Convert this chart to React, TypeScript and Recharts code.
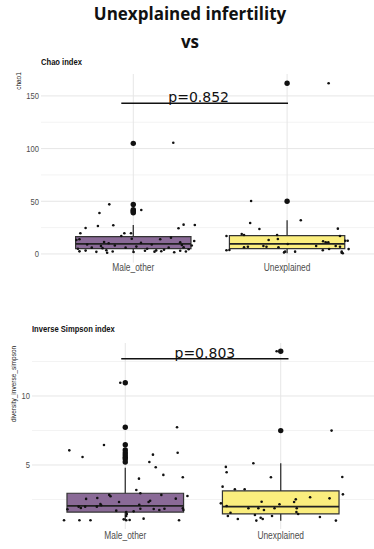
import React from 'react'
import {
  ScatterChart,
  Scatter,
  XAxis,
  YAxis,
  CartesianGrid,
  ReferenceLine,
  ReferenceArea,
} from 'recharts'

const categories = ['Male_other', 'Unexplained']
const boxColors = ['#8a6a97', '#fbee7e']

const chaoTicks = [0, 50, 100, 150]
const chaoMinor = [25, 75, 125]
const simpsonTicks = [5, 10]
const simpsonMinor = [2.5, 7.5, 12.5]

// [lower whisker, q1, median, q3, upper whisker]
const chaoMaleBox = [0.8, 5.0, 9.5, 16.4, 27.5]
const chaoUnexplBox = [0.7, 5.0, 9.5, 17.4, 32]
const simpsonMaleBox = [0.97, 1.59, 2.03, 2.95, 4.8]
const simpsonUnexplBox = [0.96, 1.45, 1.98, 3.12, 5.12]

const chaoMaleOutliers = [105, 47, 42, 41, 40, 39]
const chaoUnexplOutliers = [162, 50]
const simpsonMaleOutliers = [10.96, 7.73, 6.47, 6.09, 5.89, 5.72, 5.56, 5.43, 5.22]
const simpsonUnexplOutliers = [13.24, 7.49]

// jittered samples: [horizontal offset from group centre, value]
const chaoMaleJitter = [
  [0.26, 105.6], [-0.156, 47.1], [-0.22, 38.9], [0.052, 41.7], [-0.31, 24.7], [-0.23, 26.6],
  [-0.13, 27.2], [-0.344, 19.6], [-0.37, 13.3], [-0.078, 17.1], [-0.058, 19.6], [-0.015, 19.6],
  [0.294, 24.4], [0.327, 27.8], [0.4, 27.5], [0.396, 12.3], [0.175, 13.9], [0.245, 15.5],
  [-0.35, 14], [-0.19, 11.4], [-0.16, 10.1], [-0.21, 7.6], [0.305, 11.1], [0.316, 8.5],
  [0.327, 6.4], [-0.01, 14.5], [-0.35, 2.5], [-0.31, 3.2], [-0.24, 2.0], [-0.175, 3.5],
  [-0.134, 2.4], [0.002, 1.8], [0.076, 3.0], [0.138, 2.2], [0.149, 3.4], [0.182, 2.6],
  [0.266, 1.6], [0.305, 3.1], [0.342, 2.3], [-0.17, 1.2], [-0.36, 5], [-0.27, 6],
  [-0.2, 5.5], [-0.12, 8], [-0.05, 6], [0.02, 7], [0.09, 5], [0.12, 9], [0.2, 4],
  [0.23, 6], [0.36, 4.5], [0.38, 8], [-0.3, 9], [0.05, 10.5],
]
const chaoUnexplJitter = [
  [0.27, 162], [-0.234, 50.3], [-0.24, 29.4], [-0.18, 23.7], [0.089, 32], [0.33, 24],
  [-0.394, 17.1], [-0.295, 19], [-0.28, 18], [-0.065, 18], [-0.06, 14.2], [-0.12, 13.3],
  [0.344, 17.1], [0.394, 12.6], [0.378, 12.6], [0.234, 12], [0.251, 11.1], [0.268, 11.1],
  [0.004, 9.5], [-0.28, 6.4], [-0.255, 6.9], [-0.154, 7.6], [-0.134, 6.9], [-0.056, 6.4],
  [0.189, 7.6], [0.316, 7.6], [0.344, 6.9], [-0.394, 3.5], [-0.013, 2.2], [-0.02, 1.5],
  [0.052, 2.2], [0.232, 3.5], [0.273, 4.7], [0.355, 2.2], [0.362, 0.7], [0.4, 4.6],
  [-0.375, 3.8], [0.355, 1.2],
]
const simpsonMaleJitter = [
  [-0.032, 10.96], [0.333, 7.73], [-0.137, 6.45], [-0.36, 6.06], [-0.275, 5.58], [0.178, 5.75],
  [0.155, 5.22], [0.196, 4.83], [0.337, 5.89], [0.245, 4.28], [0.37, 4.11], [0.088, 4.01],
  [0.071, 3.19], [0.097, 2.95], [0.4, 2.75], [0.232, 2.83], [0.325, 2.56], [-0.103, 2.83],
  [-0.095, 2.73], [-0.252, 2.54], [-0.18, 2.61], [-0.04, 2.32], [-0.16, 2.17], [0.15, 2.32],
  [0.16, 2.41], [0.09, 2.12], [-0.372, 1.79], [-0.3, 1.98], [-0.286, 1.88], [-0.258, 1.98],
  [-0.183, 1.98], [-0.155, 2.08], [0.097, 1.83], [0.183, 1.81], [0.219, 1.74], [0.252, 1.83],
  [0.37, 1.86], [0.374, 1.74], [-0.058, 1.69], [0.054, 1.64], [0.006, 1.59], [0.01, 1.45],
  [-0.394, 0.99], [-0.295, 0.99], [-0.224, 0.99], [-0.01, 1.06], [0.006, 0.99], [0.028, 1.01],
  [0.118, 1.11], [0.346, 0.99], [0.006, 1.3],
]
const simpsonUnexplJitter = [
  [-0.026, 13.24], [0.327, 7.49], [-0.176, 5.12], [-0.353, 4.86], [-0.348, 4.47], [-0.063, 4.11],
  [0.396, 4.13], [-0.374, 3.43], [-0.295, 3.24], [-0.232, 3.24], [0.4, 2.87], [0.189, 2.66],
  [0.314, 2.58], [0.097, 2.51], [0.086, 2.32], [-0.123, 2.34], [-0.385, 2.22], [-0.008, 2.15],
  [-0.348, 2.03], [-0.208, 1.86], [-0.144, 1.86], [-0.108, 1.74], [-0.04, 1.86], [0.103, 1.86],
  [0.101, 1.59], [0.112, 1.45], [-0.323, 1.54], [-0.34, 1.3], [-0.276, 1.09], [-0.166, 1.38],
  [-0.129, 1.18], [-0.116, 1.09], [-0.056, 1.3], [-0.157, 0.97], [0.252, 1.23], [0.355, 0.97],
]

const SANS = '"Liberation Sans", Arial, sans-serif'
const NARROW = 0.8 // horizontal squeeze to mimic the condensed ggplot font

const smallDot = (p: any) => <circle cx={p.cx} cy={p.cy} r={1.3} fill="#111" />
const bigDot = (p: any) => <circle cx={p.cx} cy={p.cy} r={2.7} fill="#111" />

// squeezed tick text, scaled around its anchor point
const NarrowTick = (p: any) => {
  const { x, y, payload, textAnchor, fontSize, dy, formatter } = p
  const label = formatter ? formatter(payload.value) : payload.value
  return (
    <text
      x={x} y={y} dy={dy} textAnchor={textAnchor}
      transform={`translate(${x} 0) scale(${NARROW} 1) translate(${-x} 0)`}
      fontFamily={SANS} fontSize={fontSize} fill="#4d4d4d"
    >
      {label}
    </text>
  )
}

function Panel(props: any) {
  const {
    top, height, plotTop, yWidth, xHeight, xDomain, yDomain, ticks, minor,
    boxes, outliers, jitters, title, yLabel, bracket, pLabel,
  } = props
  const jitterData = jitters.flatMap((arr: number[][], i: number) =>
    arr.map(([o, v]) => ({ x: i + o, y: v }))
  )
  const outlierData = outliers.flatMap((arr: number[], i: number) =>
    arr.map((v) => ({ x: i, y: v }))
  )
  return (
    <div style={{ position: 'absolute', left: 0, top, width: 374, height }}>
      <div
        style={{
          position: 'absolute', left: title.left, top: title.top, whiteSpace: 'nowrap',
          fontFamily: SANS, fontWeight: 700, fontSize: 9.5, color: '#111',
          transform: `scaleX(${NARROW})`, transformOrigin: 'left center',
        }}
      >
        {title.text}
      </div>
      <ScatterChart width={374} height={height} margin={{ top: plotTop, right: 0, bottom: 0, left: 0 }}>
        <CartesianGrid horizontalValues={minor} vertical={false} stroke="#f3f3f3" />
        <CartesianGrid horizontalValues={ticks} verticalValues={[0, 1]} stroke="#e6e6e6" />
        <XAxis
          type="number" dataKey="x" domain={xDomain} allowDataOverflow
          ticks={[0, 1]} axisLine={false} tickLine={false} tickSize={0}
          tickMargin={props.xTickMargin} height={xHeight} interval={0}
          tick={<NarrowTick fontSize={10.5} dy="0.71em" formatter={(v: number) => categories[v]} />}
        />
        <YAxis
          type="number" dataKey="y" domain={yDomain} allowDataOverflow
          ticks={ticks} width={yWidth}
          axisLine={false} tickLine={false} tickSize={0} tickMargin={2}
          tick={<NarrowTick fontSize={9.5} dy="0.355em" />}
          label={{
            content: () => (
              <text
                x={yLabel.x} y={yLabel.y} transform={`rotate(-90 ${yLabel.x} ${yLabel.y})`}
                textAnchor="middle" dominantBaseline="central"
                fontFamily={SANS} fontSize={6.5} fill="#222"
              >
                {yLabel.text}
              </text>
            ),
          }}
        />
        {boxes.map((b: number[], i: number) => (
          <ReferenceLine
            key={'wl' + i} stroke="#333" strokeWidth={1.3}
            segment={[{ x: i, y: b[0] }, { x: i, y: b[1] }]}
          />
        ))}
        {boxes.map((b: number[], i: number) => (
          <ReferenceLine
            key={'wh' + i} stroke="#333" strokeWidth={1.3}
            segment={[{ x: i, y: b[3] }, { x: i, y: b[4] }]}
          />
        ))}
        {boxes.map((b: number[], i: number) => (
          <ReferenceArea
            key={'b' + i} x1={i - 0.375} x2={i + 0.375} y1={b[1]} y2={b[3]}
            fill={boxColors[i]} fillOpacity={1} stroke="#333" strokeWidth={1.2}
          />
        ))}
        {boxes.map((b: number[], i: number) => (
          <ReferenceLine
            key={'md' + i} stroke="#222" strokeWidth={1.8}
            segment={[{ x: i - 0.375, y: b[2] }, { x: i + 0.375, y: b[2] }]}
          />
        ))}
        <ReferenceLine
          stroke="#111" strokeWidth={1.5}
          segment={[{ x: bracket[0], y: bracket[2] }, { x: bracket[1], y: bracket[2] }]}
          label={{
            content: (lp: any) => {
              const vb = lp.viewBox || {}
              return (
                <text
                  x={vb.x + (vb.width || 0) / 2 + pLabel.dx} y={vb.y - 1}
                  textAnchor="middle" fontFamily='"DejaVu Sans", sans-serif'
                  fontSize={14} fill="#111"
                >
                  {pLabel.text}
                </text>
              )
            },
          }}
        />
        <Scatter data={outlierData} shape={bigDot} isAnimationActive={false} />
        <Scatter data={jitterData} shape={smallDot} isAnimationActive={false} />
      </ScatterChart>
    </div>
  )
}

export default function App() {
  return (
    <div
      style={{
        position: 'absolute', left: 0, top: 0, width: 374, height: 549,
        background: '#fff', overflow: 'hidden',
      }}
    >
      <div
        style={{
          position: 'absolute', left: 0, width: 374, top: 0, textAlign: 'center',
          fontFamily: '"Open Sans", sans-serif', fontWeight: 700, fontSize: 17,
          lineHeight: '28px', color: '#111',
        }}
      >
        <div style={{ paddingLeft: 6 }}>Unexplained infertility</div>
        <div style={{ paddingLeft: 6 }}>vs</div>
      </div>
      <Panel
        top={0} height={280} plotTop={74} yWidth={41} xHeight={17.4} xTickMargin={1}
        xDomain={[-0.6, 1.565]} yDomain={[-8.2, 170.8]}
        ticks={chaoTicks} minor={chaoMinor}
        boxes={[chaoMaleBox, chaoUnexplBox]}
        outliers={[chaoMaleOutliers, chaoUnexplOutliers]}
        jitters={[chaoMaleJitter, chaoUnexplJitter]}
        title={{ text: 'Chao index', left: 41, top: 56 }}
        yLabel={{ text: 'chao1', x: 18, y: 81 }}
        bracket={[-0.078, 1.006, 143]}
        pLabel={{ text: 'p=0.852', dx: -6 }}
      />
      <Panel
        top={300} height={249} plotTop={43} yWidth={32} xHeight={20} xTickMargin={2.5}
        xDomain={[-0.6, 1.6]} yDomain={[0.36, 13.84]}
        ticks={simpsonTicks} minor={simpsonMinor}
        boxes={[simpsonMaleBox, simpsonUnexplBox]}
        outliers={[simpsonMaleOutliers, simpsonUnexplOutliers]}
        jitters={[simpsonMaleJitter, simpsonUnexplJitter]}
        title={{ text: 'Inverse Simpson index', left: 32, top: 23 }}
        yLabel={{ text: 'diversity_inverse_simpson', x: 13, y: 84 }}
        bracket={[-0.026, 1.05, 12.7]}
        pLabel={{ text: 'p=0.803', dx: 0 }}
      />
    </div>
  )
}
